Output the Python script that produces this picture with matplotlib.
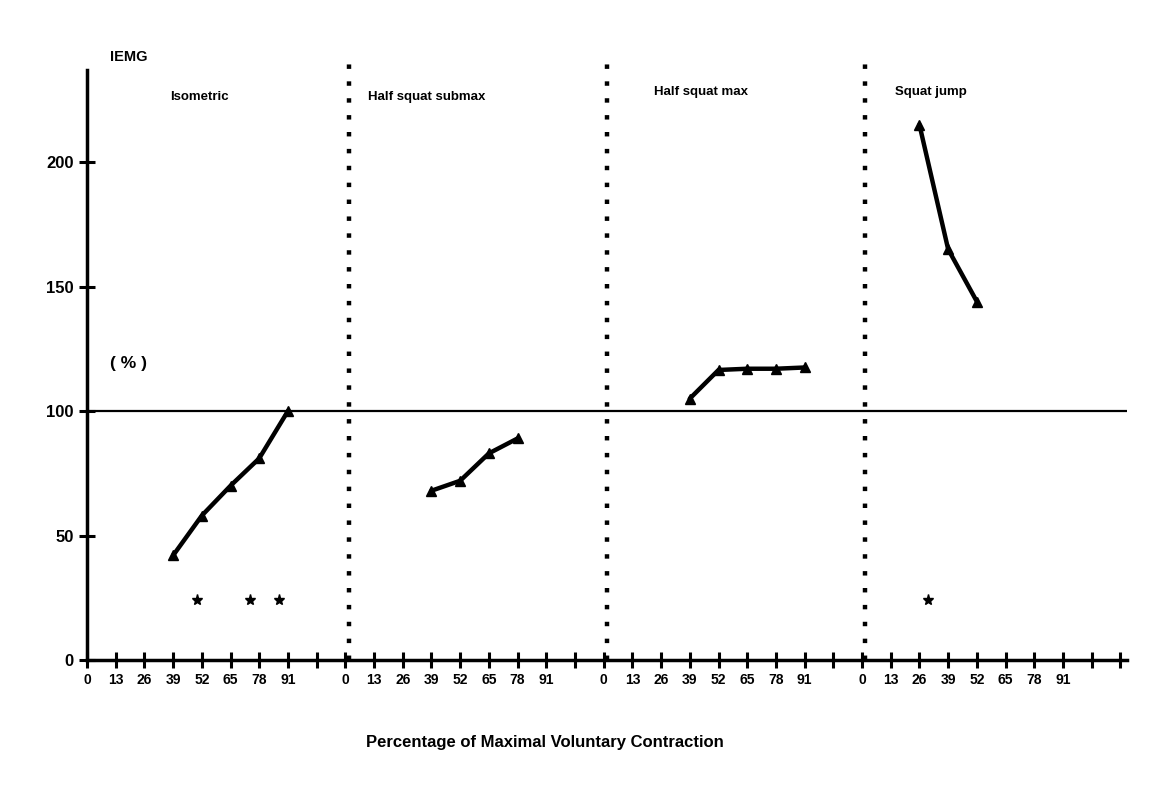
import numpy as np
import matplotlib.pyplot as plt

plt.rcParams['font.family'] = ['Liberation Sans Narrow', 'Liberation Sans', 'DejaVu Sans']

# panel layout: each panel covers 0..117 (% MVC), ticks every 13
panel_width = 117
tick_step = 13
panels = ["Isometric", "Half squat submax", "Half squat max", "Squat jump"]
panel_label_x = [51, 37, 44, 31]
panel_label_y = [226, 226, 228, 228]

# IEMG (% of maximal) per condition
iso_x = [39, 52, 65, 78, 91]
iso_y = [42, 58, 70, 81, 100]
sub_x = [39, 52, 65, 78]
sub_y = [68, 72, 83, 89]
max_x = [39, 52, 65, 78, 91]
max_y = [105, 116.5, 117, 117, 117.5]
jump_x = [26, 39, 52]
jump_y = [215, 165, 144]

series = [(iso_x, iso_y), (sub_x, sub_y), (max_x, max_y), (jump_x, jump_y)]

# significance stars (panel index, x)
star_panel = [0, 0, 0, 3]
star_x = [50, 74, 87, 30]
star_y = 24

fig = plt.figure(figsize=(11.5, 7.96), dpi=100)
ax = fig.add_axes([87 / 1150, 136 / 796, 1040 / 1150, 590 / 796])

for i, (xs, ys) in enumerate(series):
    off = i * panel_width
    ax.plot(np.array(xs) + off, ys, color="black", lw=3.2, marker="^",
            markersize=6.5, solid_capstyle="round", solid_joinstyle="round")

for p, sx in zip(star_panel, star_x):
    ax.plot(sx + p * panel_width, star_y, marker="*", color="black",
            markersize=8, linestyle="none")

# reference line at 100 %
ax.axhline(100, color="black", lw=1.6)

# dotted panel separators
for i in range(1, len(panels)):
    ax.plot([i * panel_width + 1.5] * 2, [0, 242], color="black", lw=3.2,
            linestyle=(0, (1, 2.8)), clip_on=False)

for i, name in enumerate(panels):
    ax.text(i * panel_width + panel_label_x[i], panel_label_y[i], name,
            ha="center", va="center", fontsize=9.5, fontweight="bold")

ax.text(19, 119, "( % )", ha="center", va="center", fontsize=12.5, fontweight="bold")
fig.text(110 / 1150, 1 - 57 / 796, "IEMG", ha="left", va="center",
         fontsize=10.5, fontweight="bold")

total = len(panels) * panel_width
ticks = np.arange(0, total + 1, tick_step)
labels = []
for t in ticks:
    pos = t % panel_width
    labels.append(str(pos) if pos <= 91 and t < total else "")
ax.set_xticks(ticks)
ax.set_xticklabels(labels, fontsize=10, fontweight="bold")
ax.set_yticks([0, 50, 100, 150, 200])
ax.set_yticklabels(["0", "50", "100", "150", "200"], fontsize=12, fontweight="bold")
ax.tick_params(direction="inout", length=11, width=2.2, pad=4)

ax.set_xlim(0, 471)
ax.set_ylim(0, 237)
for s in ["top", "right"]:
    ax.spines[s].set_visible(False)
for s in ["left", "bottom"]:
    ax.spines[s].set_linewidth(2.5)

fig.text(545 / 1150, 1 - 743 / 796, "Percentage of Maximal Voluntary Contraction",
         ha="center", va="center", fontsize=12, fontweight="bold")

fig.savefig("out.png", dpi=100)
